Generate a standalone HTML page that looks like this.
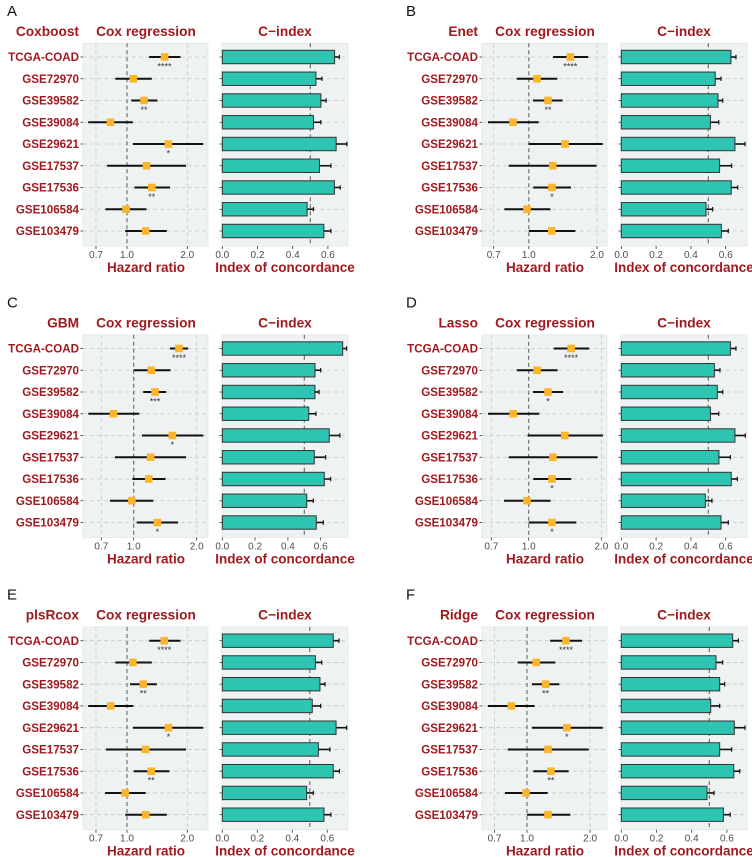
<!DOCTYPE html>
<html><head><meta charset="utf-8"><style>
html,body{margin:0;padding:0;background:#fff;}
svg{display:block;font-family:"Liberation Sans",Arial,sans-serif;}
</style></head><body>
<svg id="chart" width="752" height="857" viewBox="0 0 752 857" xmlns="http://www.w3.org/2000/svg"></svg>
<script>
// ---- data ----
const datasets = ["TCGA-COAD","GSE72970","GSE39582","GSE39084","GSE29621","GSE17537","GSE17536","GSE106584","GSE103479"];
const modelNames = ["Coxboost","Enet","GBM","Lasso","plsRcox","Ridge"];
const panelLetters = ["A","B","C","D","E","F"];
const coxTicks = [0.7, 1.0, 2.0];
const coxTickLabels = ["0.7","1.0","2.0"];
const barTicks = [0, 0.2, 0.4, 0.6];
const barTickLabels = ["0.0","0.2","0.4","0.6"];

const coxboostHR = [1.54,1.075,1.216,0.826,1.61,1.25,1.33,0.99,1.24];
const coxboostLo = [1.29,0.874,1.05,0.64,1.07,0.795,1.09,0.78,0.98];
const coxboostHi = [1.85,1.33,1.42,1.07,2.40,1.97,1.64,1.25,1.58];
const coxboostSig = ["****","","**","","*","","**","",""];
const coxboostC = [0.638,0.532,0.56,0.518,0.647,0.552,0.637,0.482,0.577];
const coxboostCHi = [0.665,0.566,0.59,0.56,0.708,0.617,0.67,0.518,0.617];

const enetHR = [1.525,1.087,1.215,0.852,1.445,1.275,1.266,0.982,1.262];
const enetLo = [1.28,0.884,1.044,0.66,1.0,0.815,1.047,0.78,1.0];
const enetHi = [1.83,1.336,1.41,1.105,2.12,1.99,1.535,1.245,1.605];
const enetSig = ["****","","**","","","","*","",""];
const enetC = [0.63,0.54,0.556,0.512,0.653,0.565,0.632,0.487,0.575];
const enetCHi = [0.659,0.573,0.583,0.56,0.711,0.634,0.669,0.525,0.615];

const gbmHR = [1.646,1.214,1.264,0.80,1.53,1.205,1.18,0.98,1.297];
const gbmLo = [1.49,1.0,1.11,0.607,1.095,0.814,0.985,0.77,1.033];
const gbmHi = [1.82,1.50,1.43,1.063,2.15,1.78,1.42,1.24,1.63];
const gbmSig = ["****","","***","","*","","","","*"];
const gbmC = [0.734,0.565,0.565,0.527,0.652,0.561,0.622,0.515,0.573];
const gbmCHi = [0.758,0.60,0.59,0.571,0.717,0.63,0.661,0.555,0.616];

const lassoHR = [1.50,1.083,1.202,0.863,1.41,1.26,1.249,0.984,1.249];
const lassoLo = [1.27,0.892,1.042,0.678,0.99,0.826,1.045,0.79,1.0];
const lassoHi = [1.78,1.318,1.39,1.106,2.03,1.93,1.502,1.233,1.575];
const lassoSig = ["****","","*","","","","*","","*"];
const lassoC = [0.627,0.535,0.552,0.512,0.653,0.561,0.632,0.483,0.573];
const lassoCHi = [0.659,0.567,0.583,0.56,0.713,0.627,0.667,0.521,0.615];

const plsrcoxHR = [1.535,1.07,1.206,0.829,1.61,1.24,1.32,0.98,1.24];
const plsrcoxLo = [1.29,0.874,1.035,0.64,1.07,0.785,1.08,0.777,0.98];
const plsrcoxHi = [1.85,1.33,1.41,1.075,2.40,1.97,1.627,1.24,1.58];
const plsrcoxSig = ["****","","**","","*","","**","",""];
const plsrcoxC = [0.634,0.532,0.558,0.514,0.65,0.549,0.634,0.482,0.581];
const plsrcoxCHi = [0.667,0.568,0.587,0.562,0.711,0.615,0.669,0.52,0.621];

const ridgeHR = [1.535,1.107,1.228,0.842,1.55,1.26,1.30,0.99,1.26];
const ridgeLo = [1.29,0.903,1.056,0.65,1.056,0.809,1.072,0.785,1.0];
const ridgeHi = [1.83,1.365,1.426,1.088,2.30,1.97,1.58,1.255,1.61];
const ridgeSig = ["****","","**","","*","","**","",""];
const ridgeC = [0.633,0.538,0.559,0.508,0.642,0.559,0.639,0.487,0.58];
const ridgeCHi = [0.665,0.576,0.587,0.559,0.703,0.627,0.673,0.527,0.619];

const seriesHR = [coxboostHR, enetHR, gbmHR, lassoHR, plsrcoxHR, ridgeHR];
const seriesLo = [coxboostLo, enetLo, gbmLo, lassoLo, plsrcoxLo, ridgeLo];
const seriesHi = [coxboostHi, enetHi, gbmHi, lassoHi, plsrcoxHi, ridgeHi];
const seriesSig = [coxboostSig, enetSig, gbmSig, lassoSig, plsrcoxSig, ridgeSig];
const seriesC = [coxboostC, enetC, gbmC, lassoC, plsrcoxC, ridgeC];
const seriesCHi = [coxboostCHi, enetCHi, gbmCHi, lassoCHi, plsrcoxCHi, ridgeCHi];

// ---- layout (not data) ----
const layout = [
  {ox:0,oy:0,x1:127,s:87,bs:176},
  {ox:399,oy:0,x1:129.8,s:98.4,bs:174},
  {ox:0,oy:291.5,x1:133.7,s:90.9,bs:164},
  {ox:399,oy:291.5,x1:129.7,s:104.8,bs:174},
  {ox:0,oy:583.7,x1:127,s:87,bs:175},
  {ox:399,oy:583.7,x1:128,s:91,bs:176}
];
const RED = "#A0191E";
const NS = "http://www.w3.org/2000/svg";
const svg = document.getElementById("chart");
function mk(tag, attrs, parent, text){
  const e = document.createElementNS(NS, tag);
  for (const k in attrs) e.setAttribute(k, attrs[k]);
  if (text !== undefined) e.textContent = text;
  (parent || svg).appendChild(e);
  return e;
}

for (let p = 0; p < 6; p++) {
  const L = layout[p];
  const g = mk("g", {transform:`translate(${L.ox},${L.oy})`});
  
  
  const xCox = v => L.x1 + Math.log(v) * L.s;
  const xBar = v => 222.3 + v * L.bs;
  const yRow = i => 57 + i * 21.75;

  const letter = mk("text", {x:7, y:16, "font-size":15, fill:"#111"}, g, panelLetters[p]);
  
  

  const mt = mk("text", {x:79, y:36, "font-size":13.7, "font-weight":"bold", fill:RED, "text-anchor":"end"}, g, modelNames[p]);
  
  
  const ct = mk("text", {x:146, y:36, "font-size":13.7, "font-weight":"bold", fill:RED, "text-anchor":"middle"}, g, "Cox regression");
  
  
  const bt = mk("text", {x:285, y:36, "font-size":13.7, "font-weight":"bold", fill:RED, "text-anchor":"middle"}, g, "C\u2212index");
  
  

  // panel backgrounds
  const cbg = mk("rect", {x:83, y:43.3, width:125, height:202.7, fill:"#EFF2F2", stroke:"#E2E5E5", "stroke-width":0.8}, g);
  
  
  const bbg = mk("rect", {x:222, y:43.3, width:126, height:202.7, fill:"#EFF2F2", stroke:"#E2E5E5", "stroke-width":0.8}, g);
  
  

  // gridlines
  datasets.forEach((d, i) => {
    mk("line", {x1:83, x2:208, y1:yRow(i), y2:yRow(i), stroke:"#C4C8C8", "stroke-width":0.8, "stroke-dasharray":"4,3"}, g);
    mk("line", {x1:222, x2:348, y1:yRow(i), y2:yRow(i), stroke:"#C4C8C8", "stroke-width":0.8, "stroke-dasharray":"4,3"}, g);
  });
  coxTicks.forEach((t, k) => {
    mk("line", {x1:xCox(t), x2:xCox(t), y1:43.3, y2:246, stroke: t===1 ? "#666" : "#C4C8C8", "stroke-width": t===1 ? 1.1 : 0.8, "stroke-dasharray":"4,3"}, g);
    mk("line", {x1:xCox(t), x2:xCox(t), y1:246, y2:249, stroke:"#333", "stroke-width":0.8}, g);
    const tl = mk("text", {x:xCox(t), y:258, "font-size":10, fill:"#4D4D4D", "text-anchor":"middle"}, g, coxTickLabels[k]);
    
    
  });
  mk("line", {x1:xBar(0.5), x2:xBar(0.5), y1:43.3, y2:246, stroke:"#666", "stroke-width":1.1, "stroke-dasharray":"4,3"}, g);
  barTicks.forEach((t, k) => {
    mk("line", {x1:xBar(t), x2:xBar(t), y1:246, y2:249, stroke:"#333", "stroke-width":0.8}, g);
    const tl = mk("text", {x:xBar(t), y:258, "font-size":10, fill:"#4D4D4D", "text-anchor":"middle"}, g, barTickLabels[k]);
    
    
  });
  const hx = mk("text", {x:146, y:272, "font-size":13.5, "font-weight":"bold", fill:RED, "text-anchor":"middle"}, g, "Hazard ratio");
  
  
  const ix = mk("text", {x:285, y:272, "font-size":13.5, "font-weight":"bold", fill:RED, "text-anchor":"middle"}, g, "Index of concordance");
  
  

  const HR = seriesHR[p], LO = seriesLo[p], HI = seriesHi[p], SG = seriesSig[p], C = seriesC[p], CH = seriesCHi[p];
  datasets.forEach((d, i) => {
    const y = yRow(i);
    const lab = mk("text", {x:79, y:y+4.2, "font-size":11.6, "font-weight":"bold", fill:RED, "text-anchor":"end"}, g, d);
    
    
    mk("line", {x1:80.5, x2:83, y1:y, y2:y, stroke:"#333", "stroke-width":0.8}, g);
    mk("line", {x1:219.5, x2:222, y1:y, y2:y, stroke:"#333", "stroke-width":0.8}, g);

    const ci = mk("line", {x1:xCox(LO[i]), x2:xCox(HI[i]), y1:y, y2:y, stroke:"#111", "stroke-width":2}, g);
    
    
    const pt = mk("rect", {x:xCox(HR[i])-3.8, y:y-3.8, width:7.6, height:7.6, fill:"#FBB52B"}, g);
    
    
    if (SG[i]) {
      const st = mk("text", {x:xCox(HR[i]), y:y+12.5, "font-size":9, fill:"#333", "text-anchor":"middle"}, g, SG[i]);
      
      
    }
    const eb = mk("line", {x1:xBar(C[i]), x2:xBar(CH[i]), y1:y, y2:y, stroke:"#111", "stroke-width":1.6}, g);
    
    
    mk("line", {x1:xBar(CH[i]), x2:xBar(CH[i]), y1:y-2.2, y2:y+2.2, stroke:"#111", "stroke-width":1.2}, g);
    const bar = mk("rect", {x:xBar(0), y:y-6.7, width:xBar(C[i])-xBar(0), height:13.4, fill:"#2EC4B2", stroke:"#333", "stroke-width":1}, g);
    
    
  });
}
</script>
</body></html>
